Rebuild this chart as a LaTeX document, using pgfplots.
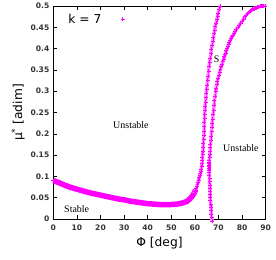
\documentclass[border=0pt]{standalone}
\usepackage{pgfplots}
\pgfplotsset{compat=1.18}
\usepackage{fontspec}
\setmainfont{DejaVu Sans}
\newfontfamily\serif{Liberation Serif}
\definecolor{gmag}{RGB}{255,0,255}
\begin{document}
\begin{tikzpicture}
\begin{axis}[
  scale only axis,
  width=212.4bp, height=213bp,
  xmin=0, xmax=90, ymin=0, ymax=0.5,
  xtick={0,10,20,30,40,50,60,70,80,90},
  ytick={0,0.05,0.1,0.15,0.2,0.25,0.3,0.35,0.4,0.45,0.5},
  tick align=inside,
  major tick length=4bp,
  tick style={black, line width=0.5pt},
  axis line style={black, line width=0.6pt},
  /pgf/number format/assume math mode=true,
  /pgf/number format/fixed,
  /pgf/number format/precision=2,
  ticklabel style={font=\fontsize{7.6}{9}\selectfont\bfseries, text=black!80},
  xticklabel style={yshift=-2.5bp},
  yticklabel style={xshift=-0.5bp},
  xlabel={Φ [deg]},
  ylabel={μ\textsuperscript{*} [adim]},
  label style={font=\fontsize{12.3}{14}\selectfont},
  xlabel style={yshift=0bp},
  ylabel style={yshift=-1bp},
  clip=false,
  legend plot pos=right,
  legend style={at={(axis cs:5.5,0.487)}, anchor=north west, draw=none, fill=none,
    font=\fontsize{12.3}{14}\selectfont, inner sep=0pt},
  legend image code/.code={\path[draw=none, fill=none] (0cm,0cm) -- (0.68cm,0cm); \draw[#1] plot coordinates {(0.68cm,0cm)};},
]
\addlegendimage{only marks, mark=+, gmag, mark size=2pt, mark options={line width=0.5pt}}
\addlegendentry{k = 7}
% lower (stable) branch band
\addplot[gmag, line width=5.5bp, forget plot] coordinates {
(0,0.090) (2.5,0.085) (5,0.079) (7.5,0.074) (10,0.070) (12.5,0.066) (15,0.062)
(17.5,0.059) (20,0.056) (22.5,0.053) (25,0.050) (27.5,0.047) (30,0.045) (32.5,0.042)
(35,0.040) (37.5,0.038) (40,0.036) (42.5,0.035) (45,0.034) (47.5,0.034) (50,0.034)
(52.5,0.035) (55,0.038) (56.5,0.041) (57.8,0.047) (58.8,0.053) (59.6,0.060) (60.3,0.068)
};
% left branch
\addplot[gmag!45, line width=3.5bp, forget plot] coordinates {
(59.6,0.060) (60.3,0.068) (60.8,0.076) (61.3,0.086) (61.8,0.097) (62.3,0.107) (62.7,0.117)
(63.0,0.130) (63.2,0.145) (63.4,0.160) (63.6,0.178) (63.8,0.197) (64.0,0.217) (64.1,0.237)
(64.2,0.256) (64.5,0.275) (64.8,0.295) (65.2,0.315) (65.6,0.336) (66.0,0.358) (66.5,0.378)
(67.0,0.398) (67.6,0.418) (68.1,0.436) (68.7,0.452) (69.3,0.468) (69.9,0.484) (70.6,0.500)
};
\addplot[gmag, only marks, mark=+, mark size=2pt, mark options={line width=0.5pt}, forget plot] coordinates {
(0,0.090) (1.2,0.087) (2.5,0.085) (3.7,0.082) (5,0.079) (6.2,0.077) (7.5,0.074) (8.7,0.072)
(10,0.070) (11.2,0.068) (12.5,0.066) (13.7,0.064) (15,0.062) (16.2,0.060) (17.5,0.059)
(18.7,0.057) (20,0.056) (21.2,0.054) (22.5,0.053) (23.7,0.051) (25,0.050) (26.2,0.048)
(27.5,0.047) (28.7,0.046) (30,0.045) (31.2,0.043) (32.5,0.042) (33.7,0.041) (35,0.040)
(36.2,0.039) (37.5,0.038) (38.7,0.037) (40,0.036) (41.2,0.0355) (42.5,0.035) (43.7,0.0345)
(45,0.034) (46.2,0.034) (47.5,0.034) (48.7,0.034) (50,0.034) (51.2,0.0345) (52.5,0.035)
(53.7,0.036) (55,0.038) (56.5,0.041) (57.2,0.044) (57.8,0.047) (58.3,0.050) (58.8,0.053)
(59.2,0.056) (59.6,0.060) (60.0,0.064) (60.3,0.068) (60.6,0.072) (60.8,0.076) (61.1,0.081)
(61.3,0.086) (61.6,0.091) (61.8,0.097) (62.1,0.102) (62.3,0.107) (62.5,0.112) (62.7,0.117)
(62.85,0.123) (63.0,0.130) (63.1,0.137) (63.2,0.145) (63.3,0.152) (63.4,0.160) (63.5,0.169)
(63.6,0.178) (63.7,0.187) (63.8,0.197) (63.9,0.207) (64.0,0.217) (64.05,0.227) (64.1,0.237)
(64.15,0.246) (64.2,0.256) (64.35,0.265) (64.5,0.275) (64.65,0.285) (64.8,0.295) (65.0,0.305)
(65.2,0.315) (65.4,0.326) (65.6,0.336) (65.8,0.347) (66.0,0.358) (66.25,0.368) (66.5,0.378)
(66.75,0.388) (67.0,0.398) (67.3,0.408) (67.6,0.418) (67.85,0.427) (68.1,0.436) (68.4,0.444)
(68.7,0.452) (69.0,0.460) (69.3,0.468) (69.6,0.476) (69.9,0.484) (70.25,0.492) (70.6,0.500)
};
% right branch
\addplot[gmag!45, line width=3.5bp, forget plot] coordinates {
(67.2,-0.005) (67.1,0.005) (66.9,0.02) (66.7,0.035) (66.5,0.05) (66.4,0.065) (66.3,0.08)
(66.2,0.095) (66.1,0.110) (66.1,0.130) (66.2,0.145) (66.4,0.160) (66.6,0.175) (66.9,0.195)
(67.2,0.215) (67.5,0.235) (67.9,0.256) (68.3,0.278) (68.8,0.300) (69.3,0.316) (69.8,0.330)
(70.5,0.345) (71.2,0.358) (71.8,0.370) (72.5,0.381) (73.0,0.390) (73.6,0.400) (74.3,0.410)
(75.0,0.420) (75.8,0.428) (76.6,0.436) (77.6,0.446) (78.8,0.455) (80.0,0.465) (81.2,0.475)
(82.3,0.482) (83.5,0.488) (84.5,0.492) (85.5,0.495) (86.5,0.497) (87.5,0.499) (88.5,0.500) (89.7,0.500)
};
\addplot[gmag, line width=3bp, forget plot] coordinates {(66.1,0.115) (66.1,0.134)};
\addplot[gmag, only marks, mark=+, mark size=2pt, mark options={line width=0.5pt}, forget plot] coordinates {
(67.2,-0.005) (67.1,0.005) (67.0,0.012) (66.9,0.02) (66.8,0.028) (66.7,0.035) (66.6,0.043)
(66.5,0.05) (66.45,0.058) (66.4,0.065) (66.35,0.073) (66.3,0.08) (66.25,0.088) (66.2,0.095)
(66.15,0.103) (66.1,0.110) (66.1,0.115) (66.1,0.119) (66.1,0.123) (66.1,0.127) (66.1,0.131)
(66.1,0.134) (66.15,0.138) (66.2,0.145) (66.3,0.153) (66.4,0.160) (66.5,0.168) (66.6,0.175)
(66.75,0.185) (66.9,0.195) (67.05,0.205) (67.2,0.215) (67.35,0.225) (67.5,0.235) (67.7,0.246)
(67.9,0.256) (68.1,0.267) (68.3,0.278) (68.55,0.289) (68.8,0.300) (69.05,0.308) (69.3,0.316)
(69.55,0.323) (69.8,0.330) (70.15,0.338) (70.5,0.345) (70.85,0.352) (71.2,0.358) (71.5,0.364)
(71.8,0.370) (72.15,0.376) (72.5,0.381) (72.75,0.386) (73.0,0.390) (73.3,0.395) (73.6,0.400)
(73.95,0.405) (74.3,0.410) (74.65,0.415) (75.0,0.420) (75.4,0.424) (75.8,0.428) (76.2,0.432)
(76.6,0.436) (77.1,0.441) (77.6,0.446) (78.2,0.451) (78.8,0.455) (79.4,0.460) (80.0,0.465)
(80.6,0.470) (81.2,0.475) (81.75,0.479) (82.3,0.482) (82.9,0.485) (83.5,0.488) (84.0,0.490)
(84.5,0.492) (85.0,0.494) (85.5,0.495) (86.0,0.496) (86.5,0.497) (87.0,0.498) (87.5,0.499)
(88.0,0.4995) (88.5,0.500) (89.1,0.500) (89.7,0.500)
};
\node[font=\serif\fontsize{10}{12}\selectfont] at (axis cs:32.9,0.221) {Unstable};
\node[font=\serif\fontsize{10}{12}\selectfont] at (axis cs:79.5,0.167) {Unstable};
\node[font=\serif\fontsize{10}{12}\selectfont] at (axis cs:9.9,0.0235) {Stable};
\node[font=\serif\fontsize{10}{12}\selectfont] at (axis cs:69.2,0.376) {S};
\end{axis}
\pgfresetboundingbox
\path[use as bounding box] (0bp,0bp) ++(-53.3bp,-41bp) rectangle (212.4bp,213bp) ++(10.3bp,6bp);
\end{tikzpicture}
\end{document}
